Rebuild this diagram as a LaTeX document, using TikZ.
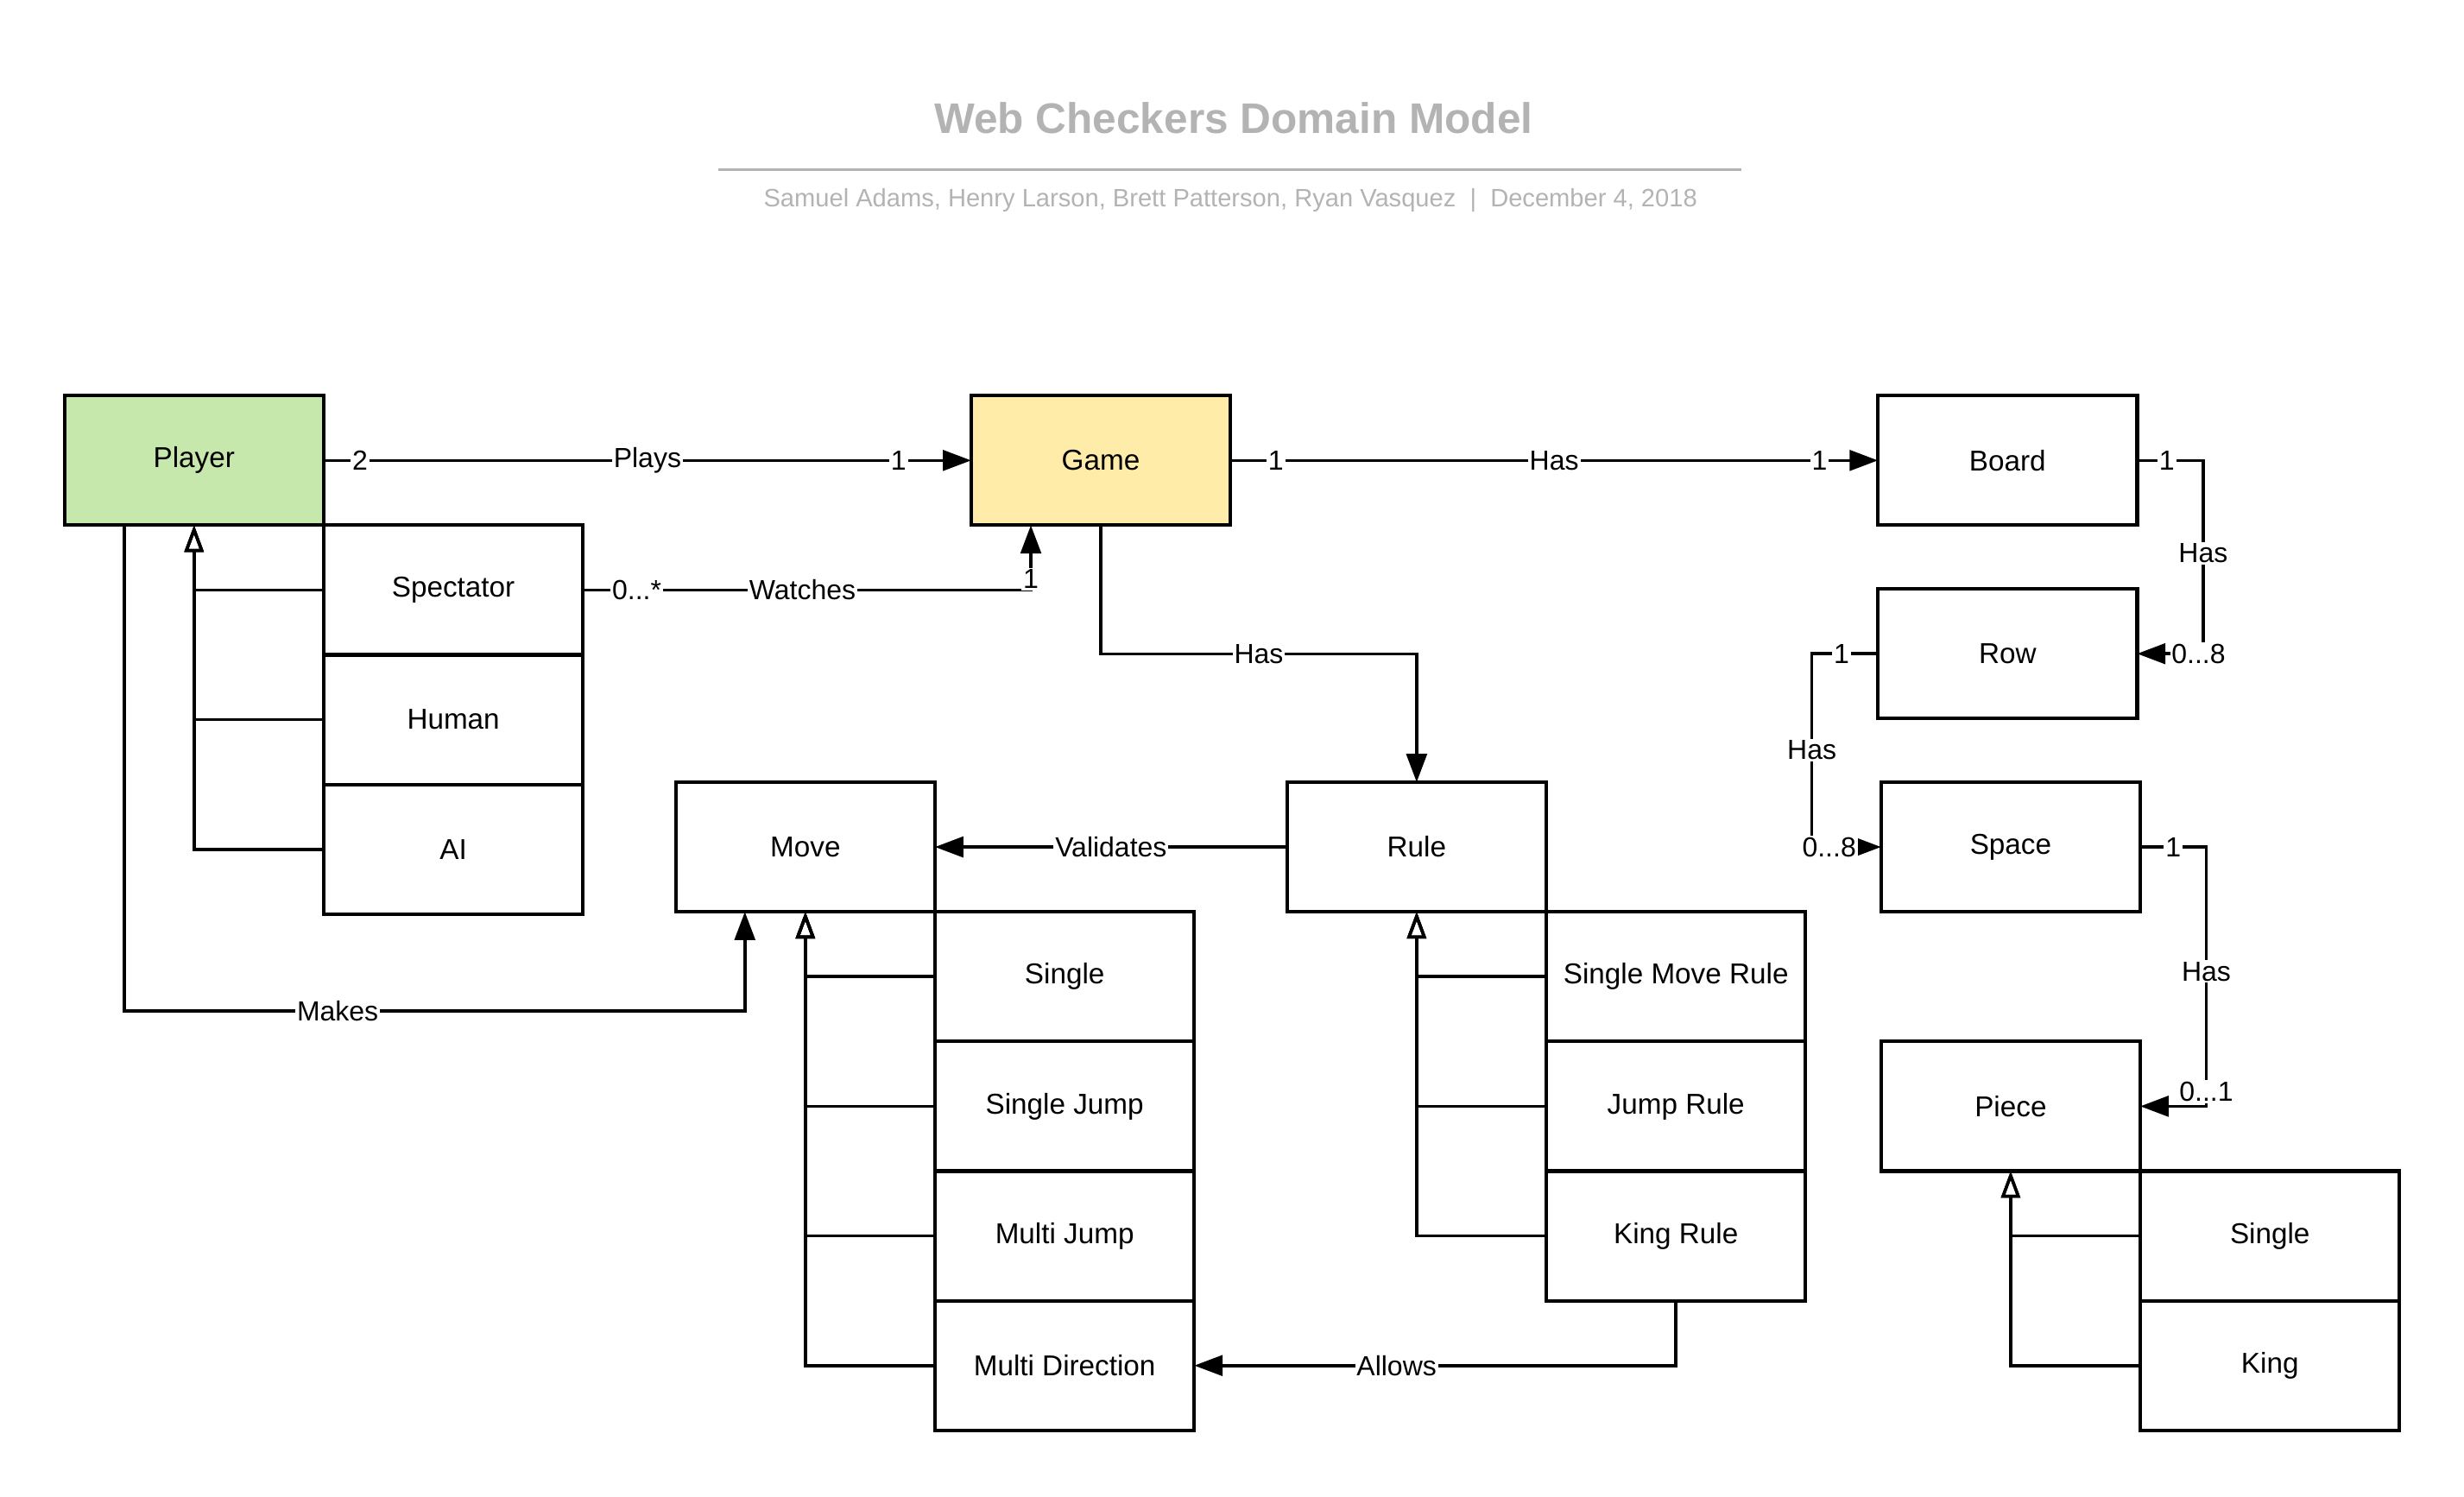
\documentclass[tikz,border=0pt]{standalone}
\usepackage{fontspec}
\setmainfont{Liberation Sans}
\usetikzlibrary{positioning,arrows.meta}
\definecolor{playergreen}{HTML}{C7E8AC}
\definecolor{gameyellow}{HTML}{FFECA9}
\definecolor{titlegrey}{HTML}{B3B3B3}

\begin{document}
\begin{tikzpicture}
    [x=0.2mm,y=-0.2mm,
     assoc/.style={draw,line width=1.1pt,-{Triangle[length=3.6mm,width=2.6mm]}},
     isa/.style={draw,line width=1.1pt,-{Triangle[open,length=3.4mm,width=2.4mm]}}]
    \tikzstyle{cls}=[draw,line width=1.3pt,minimum width=33mm,minimum height=16.5mm,inner sep=0pt,outer sep=0pt,font=\fontsize{10.4}{12}\selectfont]
    \tikzstyle{lbl}=[fill=white,inner sep=0.6pt,font=\fontsize{10}{12}\selectfont]
    \useasboundingbox (0,0) rectangle (1568,952.6);
    % heading
    \node[text=titlegrey,font=\fontsize{15.5}{18}\selectfont\bfseries] (title) at (785,75) {Web Checkers Domain Model};
    \draw[titlegrey,line width=0.4mm] (457,108) -- (1108,108);
    \node[text=titlegrey,font=\fontsize{9.1}{11}\selectfont] (authors) at (783,127.5) {Samuel Adams, Henry Larson, Brett Patterson, Ryan Vasquez\ \ |\ \ December 4, 2018};
    % classes
    \node[cls,fill=playergreen] (player) at (123.5,293) {Player};
    \node[cls,fill=gameyellow] (game) at (700.5,293) {Game};
    \node[cls] (board) at (1277.5,293) {Board};
    \node[cls] (row) at (1277.5,416) {Row};
    \node[cls] (space) at (1279.5,539) {Space};
    \node[cls] (piece) at (1279.5,704) {Piece};
    \node[cls] (move) at (512.5,539) {Move};
    \node[cls] (rule) at (901.5,539) {Rule};
    \node[cls,below right=0pt of player] (spectator) {Spectator};
    \node[cls,below=0pt of spectator] (human) {Human};
    \node[cls,below=0pt of human] (ai) {AI};
    \node[cls,below right=0pt of move] (single) {Single};
    \node[cls,below=0pt of single] (singlejump) {Single Jump};
    \node[cls,below=0pt of singlejump] (multijump) {Multi Jump};
    \node[cls,below=0pt of multijump] (multidir) {Multi Direction};
    \node[cls,below right=0pt of rule] (singlemoverule) {Single Move Rule};
    \node[cls,below=0pt of singlemoverule] (jumprule) {Jump Rule};
    \node[cls,below=0pt of jumprule] (kingrule) {King Rule};
    \node[cls,below right=0pt of piece] (psingle) {Single};
    \node[cls,below=0pt of psingle] (pking) {King};
    % associations
    \draw[assoc] (player) -- node[lbl,pos=.056]{2} node[lbl]{Plays} node[lbl,pos=.888]{1} (game);
    \draw[assoc] (game) -- node[lbl,pos=.07]{1} node[lbl]{Has} node[lbl,pos=.91]{1} (board);
    \draw[assoc] (board.east) -- ++(42,0) node[lbl,pos=.45]{1} |- node[lbl,pos=.24]{Has} node[lbl,pos=.535]{0...8} (row.east);
    \draw[assoc] (row.west) -- ++(-42,0) node[lbl,pos=.55]{1} |- node[lbl,pos=.25]{Has} node[lbl,pos=.625]{0...8} (space.west);
    \draw[assoc] (space.east) -- ++(42,0) node[lbl,pos=.5]{1} |- node[lbl,pos=.24]{Has} node[lbl,pos=.472]{0...1} (piece.east);
    \draw[assoc] (spectator.east) -| node[lbl,pos=.06]{0...*} node[lbl,pos=.245]{Watches} node[lbl,pos=.585]{1} ([xshift=-8.9mm]game.south);
    \draw[assoc] (game.south) -- ++(0,82) -| node[lbl,pos=.25]{Has} (rule.north);
    \draw[assoc] (rule) -- node[lbl]{Validates} (move);
    \draw[assoc] ([xshift=-8.9mm]player.south) |- node[lbl,pos=.672]{Makes} ([xshift=-7.7mm,yshift=-12.6mm]move.south) -- ([xshift=-7.7mm]move.south);
    \draw[assoc] (kingrule.south) |- node[lbl,pos=.79]{Allows} (multidir.east);
    % generalisations
    \draw[isa] (spectator.west) -| (player.south);
    \draw[isa] (human.west) -| (player.south);
    \draw[isa] (ai.west) -| (player.south);
    \draw[isa] (single.west) -| (move.south);
    \draw[isa] (singlejump.west) -| (move.south);
    \draw[isa] (multijump.west) -| (move.south);
    \draw[isa] (multidir.west) -| (move.south);
    \draw[isa] (singlemoverule.west) -| (rule.south);
    \draw[isa] (jumprule.west) -| (rule.south);
    \draw[isa] (kingrule.west) -| (rule.south);
    \draw[isa] (psingle.west) -| (piece.south);
    \draw[isa] (pking.west) -| (piece.south);
\end{tikzpicture}
\end{document}
